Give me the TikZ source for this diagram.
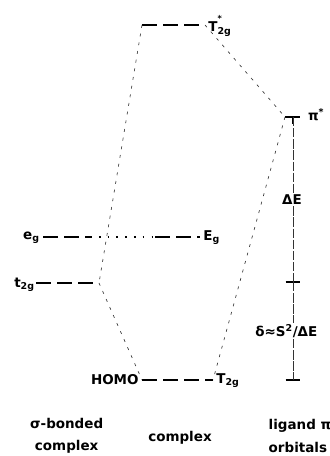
\documentclass[tikz,border=0pt]{standalone}
\usepackage{fontspec}
\setmainfont{DejaVu Sans}
\usetikzlibrary{positioning}

\begin{document}
\begin{tikzpicture}[
      level/.style={line width=1.8pt,dash pattern=on 13pt off 5pt},
      corr/.style={line width=0.55pt,dash pattern=on 2.5pt off 5pt,black!80},
      gapline/.style={line width=0.5pt,dash pattern=on 8pt off 1.5pt,black!80},
      lab/.style={font=\bfseries\fontsize{11.5}{13}\selectfont,inner sep=1pt},
      caption/.style={font=\bfseries\fontsize{11.5}{19}\selectfont,inner sep=1pt},
      bar/.style={line width=1.6pt}]

      \useasboundingbox (0,0) rectangle (9.9,13.68);

      % Niveis do complexo
      \coordinate (Tsl) at (4.26,12.93);
      \coordinate (Tsr) at (6.15,12.93);
      \draw[level] (Tsl) -- (Tsr);
      \node[lab,anchor=west] (Tslab) at (6.21,12.9)
        {T\rlap{\raisebox{1.35ex}{\scriptsize *}}\textsubscript{2g}};

      \coordinate (Hl) at (4.26,2.28);
      \coordinate (Hr) at (6.39,2.28);
      \draw[level] (Hl) -- (Hr);
      \node[lab,anchor=east] (homo) at (4.2,2.28) {HOMO};
      \node[lab,anchor=west] (Tlab) at (6.45,2.25) {T\textsubscript{2g}};

      % e_g / E_g
      \coordinate (egl) at (1.29,6.57);
      \coordinate (ega) at (2.7,6.57);
      \coordinate (egb) at (4.65,6.57);
      \coordinate (egr) at (6.0,6.57);
      \draw[level] (egl) -- (ega);
      \draw[line width=1.4pt,dash pattern=on 1.5pt off 6pt] (ega) -- (egb);
      \draw[level] (egb) -- (egr);
      \node[lab,anchor=east] (eglab) at (1.23,6.54) {e\textsubscript{g}};
      \node[lab,anchor=west] (Eglab) at (6.06,6.54) {E\textsubscript{g}};

      % t_2g
      \coordinate (tl) at (1.08,5.19);
      \coordinate (tr) at (2.97,5.19);
      \draw[level] (tl) -- (tr);
      \node[lab,anchor=east] (tlab) at (1.08,5.13) {t\textsubscript{2g}};

      % ligand pi*
      \coordinate (nl) at (8.55,10.17);
      \coordinate (nr) at (9.0,10.17);
      \coordinate (ntop) at (8.79,10.17);
      \draw[bar] (nl) -- (nr);
      \draw[line width=1.2pt] (ntop) -- ++(0,-0.2);
      \node[lab,anchor=west] (nlab) at (9.2,10.25) {π\textsuperscript{*}};

      % correlacoes
      \draw[corr] (Tsl) -- (tr);
      \draw[corr] (tr) -- (Hl);
      \draw[corr] (Tsr) -- (nl);
      \draw[corr] (nl) -- (Hr);

      % Delta E e delta
      \node[lab] (dE) at (8.76,7.68) {ΔE};
      \coordinate (cr) at (8.79,5.22);
      \draw[line width=1.1pt] ([xshift=-0.22cm]cr) -- ([xshift=0.22cm]cr);
      \draw[line width=0.8pt] ([yshift=-0.15cm]cr) -- ([yshift=0.15cm]cr);
      \node[lab,anchor=west] (dlt) at (7.62,3.75) {δ≈S\textsuperscript{2}/ΔE};
      \coordinate (bot) at (8.79,2.28);
      \draw[line width=1.2pt] ([xshift=-0.22cm]bot) -- ([xshift=0.22cm]bot);
      \draw[line width=0.8pt] (bot) -- ++(0,0.15);

      \draw[gapline] (ntop) -- (dE.north -| ntop);
      \draw[gapline] (dE.south -| ntop) -- (cr);
      \draw[gapline] (cr) -- (dlt.north -| cr);
      \draw[gapline] (dlt.south -| bot) -- (bot);

      % Legenda
      \node[caption,align=center] (sbc) at (2.0,0.6) {σ-bonded\\complex};
      \node[caption] (cpx) at (5.4,0.54) {complex};
      \node[caption,align=left,anchor=west] (lig) at (8.02,0.6) {ligand π\\orbitals};
    \end{tikzpicture}
\end{document}
